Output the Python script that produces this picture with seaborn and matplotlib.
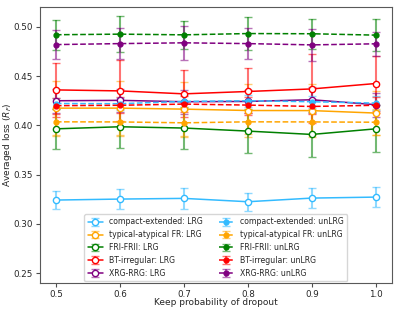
import numpy as np
import pandas as pd
import seaborn as sns
import matplotlib
matplotlib.use('Agg')
import matplotlib.pyplot as plt
from matplotlib.colors import to_rgba

sns.set_style('white')
plt.rcParams['font.family'] = ['DejaVu Sans']

keep_prob = [0.5, 0.6, 0.7, 0.8, 0.9, 1.0]
tasks = ['compact-extended', 'typical-atypical FR', 'FRI-FRII', 'BT-irregular', 'XRG-RRG']
colors = ['#33bbff', 'orange', 'green', 'red', 'purple']

# LRG (solid, open markers)
lrg_mean = [
    [0.3242, 0.3252, 0.3259, 0.3225, 0.3262, 0.3272],
    [0.4175, 0.4175, 0.4165, 0.4151, 0.4150, 0.4125],
    [0.3965, 0.3986, 0.3973, 0.3942, 0.3908, 0.3965],
    [0.4360, 0.4350, 0.4320, 0.4344, 0.4370, 0.4425],
    [0.4250, 0.4254, 0.4240, 0.4243, 0.4260, 0.4210],
]
lrg_err = [
    [0.009, 0.010, 0.0105, 0.009, 0.010, 0.0105],
    [0.028, 0.028, 0.028, 0.027, 0.027, 0.022],
    [0.020, 0.022, 0.021, 0.022, 0.023, 0.024],
    [0.027, 0.031, 0.024, 0.024, 0.035, 0.028],
    [0.012, 0.012, 0.012, 0.012, 0.013, 0.012],
]
# unLRG (dashed, filled markers)
unlrg_mean = [
    [0.4222, 0.4220, 0.4243, 0.4250, 0.4240, 0.4226],
    [0.4036, 0.4035, 0.4026, 0.4036, 0.4035, 0.4032],
    [0.4920, 0.4926, 0.4919, 0.4932, 0.4930, 0.4916],
    [0.4200, 0.4204, 0.4216, 0.4206, 0.4192, 0.4204],
    [0.4820, 0.4830, 0.4838, 0.4830, 0.4817, 0.4828],
]
unlrg_err = [
    [0.006, 0.006, 0.007, 0.006, 0.006, 0.007],
    [0.013, 0.013, 0.013, 0.012, 0.013, 0.013],
    [0.015, 0.018, 0.0145, 0.017, 0.015, 0.016],
    [0.008, 0.008, 0.008, 0.008, 0.008, 0.008],
    [0.015, 0.016, 0.017, 0.016, 0.016, 0.012],
]

fig, ax = plt.subplots(figsize=(3.99, 3.11), dpi=100)

handles = []
for i, t in enumerate(tasks):
    c = colors[i]
    h = ax.errorbar(keep_prob, lrg_mean[i], yerr=lrg_err[i], color=c, ls='-', lw=1.1,
                    marker='o', ms=4.5, mfc='white', mec=c, mew=1,
                    ecolor=to_rgba(c, 0.55), elinewidth=1.5, capsize=3, capthick=1,
                    label=t + ': LRG')
    handles.append(h)
for i, t in enumerate(tasks):
    c = colors[i]
    h = ax.errorbar(keep_prob, unlrg_mean[i], yerr=unlrg_err[i], color=c, ls='--', lw=1.1,
                    marker='o', ms=3.5, mfc=c, mec=c,
                    ecolor=to_rgba(c, 0.55), elinewidth=1.5, capsize=3, capthick=1,
                    label=t + ': unLRG')
    handles.append(h)

ax.set_ylim(0.24, 0.52)
ax.set_xticks(keep_prob)
ax.set_yticks([0.25, 0.30, 0.35, 0.40, 0.45, 0.50])
ax.tick_params(labelsize=6.3, length=3, pad=2, color='0.3', left=True, bottom=True)
ax.set_xlabel('Keep probability of dropout', fontsize=6.5)
ax.set_ylabel('Averaged loss ($R_F$)', fontsize=6.5)
ax.xaxis.set_label_coords(0.5, -0.055)
ax.yaxis.set_label_coords(-0.075, 0.5)
for s in ax.spines.values():
    s.set_color('0.35')

ax.legend(handles=handles, ncol=2, loc='lower center', fontsize=5.6,
          frameon=True, borderaxespad=0.25)

plt.subplots_adjust(left=0.1, right=0.982, top=0.977, bottom=0.09)
plt.savefig('out.png', dpi=100)
